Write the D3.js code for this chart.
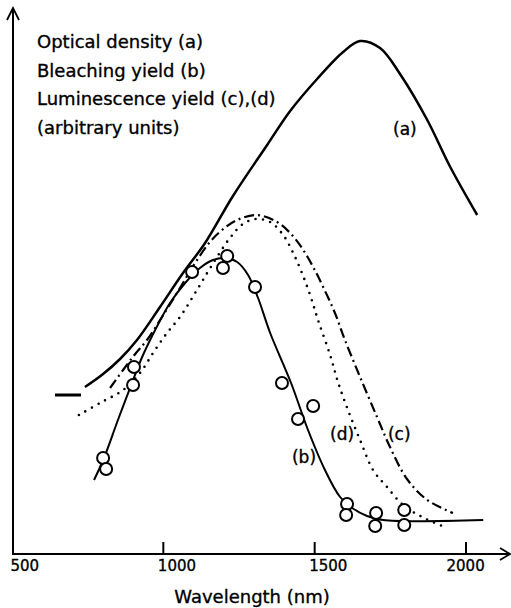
<!DOCTYPE html>
<html lang="en">
<head>
    <meta charset="UTF-8">
    <title>Optical density, bleaching and luminescence yield</title>
    <script src="https://d3js.org/d3.v7.min.js"></script>
    <style>
        body { margin: 0; background: #fff; }
        text { font-family: "DejaVu Sans", sans-serif; fill: #000; stroke: #000; stroke-width: 0.35px; }
    </style>
</head>
<body>
    <div id="chart"></div>

    <script>
        // Data (wavelength in nm, response in arbitrary units)
        var curveA = [[741, 33.4], [801, 36.0], [857, 39.0], [913, 42.8], [989, 49.4], [1065, 56.2],
            [1138, 62.2], [1230, 71.6], [1343, 81.8], [1419, 88.6], [1508, 95.0], [1594, 100.4],
            [1650, 102.6], [1716, 101.2], [1782, 96], [1872, 86.8], [1948, 77.4], [2037, 67.8]];
        var curveAStub = [[642, 31.8], [728, 31.8]];

        var curveB = [[771, 14.8], [804, 19.2], [850, 26.8], [900, 34.8], [930, 39.4], [973, 44.8],
            [1022, 50.2], [1072, 54.2], [1121, 57.2], [1164, 58.8], [1204, 59.2], [1244, 58.4],
            [1280, 55.8], [1313, 51.2], [1353, 44.2], [1422, 34.2], [1478, 24.8], [1534, 16.8],
            [1584, 11.4], [1624, 9.2], [1673, 7.6], [1726, 6.8], [2057, 6.8]];

        var pointsB = [[801, 19.2], [811, 17.0], [903, 37.4], [900, 33.8], [1095, 56.4], [1211, 59.6],
            [1197, 57.2], [1303, 53.4], [1392, 34.2], [1495, 29.6], [1445, 27.0], [1607, 10.0],
            [1604, 7.8], [1703, 8.2], [1700, 5.6], [1796, 8.8], [1796, 5.8]];

        var curveC = [[824, 33.2], [867, 36.8], [907, 40.0], [946, 42.8], [1006, 48.4], [1055, 53.2],
            [1105, 58.2], [1154, 62.4], [1194, 64.8], [1244, 66.8], [1310, 67.8], [1376, 66.4],
            [1419, 64.2], [1458, 61.2], [1495, 57.4], [1528, 53.4], [1567, 48.2], [1600, 42.8],
            [1650, 35.4], [1706, 27.4], [1749, 21.4], [1805, 15.0], [1872, 10.8], [1957, 8.2]];

        var curveD = [[721, 27.8], [791, 30.2], [867, 32.8], [923, 36.2], [966, 40.2], [1012, 44.2],
            [1055, 47.4], [1111, 52.8], [1161, 57.8], [1220, 63.2], [1263, 66.0], [1306, 67.0],
            [1353, 66.4], [1396, 63.8], [1429, 60.2], [1458, 56.2], [1485, 51.8], [1511, 46.8],
            [1551, 39.8], [1577, 34.4], [1610, 28.8], [1650, 22.8], [1693, 16.8], [1739, 13.4],
            [1792, 9.8], [1855, 7.4], [1921, 5.6]];

        var xTicks = [500, 1000, 1500, 2000];
        var titleLines = ["Optical density (a)", "Bleaching yield (b)", "Luminescence yield (c),(d)", "(arbitrary units)"];
        var curveLabels = [["(a)", 1759, 83.8], ["(b)", 1425, 18.2], ["(d)", 1551, 22.8], ["(c)", 1742, 22.8]];

        var width = 511, height = 608;

        var svg = d3.select("#chart")
            .append("svg")
            .attr("width", width)
            .attr("height", height);

        // Scales
        var x = d3.scaleLinear().domain([500, 2000]).range([12, 466]);
        var y = d3.scaleLinear().domain([0, 110]).range([554, 4]);

        // Axes lines with arrows
        svg.append("line")
            .attr("x1", x(500)).attr("y1", y(0)).attr("x2", 510).attr("y2", y(0))
            .attr("stroke", "#000").attr("stroke-width", 2);
        svg.append("path")
            .attr("d", "M500,548 L510,554 L500,560")
            .attr("fill", "none").attr("stroke", "#000").attr("stroke-width", 1.8);
        svg.append("line")
            .attr("x1", 13).attr("y1", y(0)).attr("x2", 13).attr("y2", 8)
            .attr("stroke", "#000").attr("stroke-width", 2);
        svg.append("path")
            .attr("d", "M7,20 L13,8 L19,20")
            .attr("fill", "none").attr("stroke", "#000").attr("stroke-width", 1.8);

        // x axis labels
        var xAxis = svg.append("g")
            .attr("transform", "translate(0," + y(0) + ")")
            .call(d3.axisBottom(x).tickValues(xTicks).tickFormat(d3.format("d")).tickSizeOuter(0));
        xAxis.select(".domain").remove();
        xAxis.selectAll(".tick line").remove();
        xAxis.selectAll(".tick text")
            .attr("y", 17)
            .attr("dy", 0)
            .attr("text-anchor", "start")
            .attr("dx", function (d) { return d === 2000 ? -20 : (d === 500 ? -2 : -6); })
            .style("font-size", "15px")
            .style("font-family", "'DejaVu Sans', sans-serif");

        // upward tick marks
        svg.selectAll(".xtick")
            .data(xTicks.slice(1))
            .enter()
            .append("line")
            .attr("class", "xtick")
            .attr("x1", function (d) { return x(d); })
            .attr("x2", function (d) { return x(d); })
            .attr("y1", y(0))
            .attr("y2", y(0) - 12)
            .attr("stroke", "#000")
            .attr("stroke-width", 2);

        svg.append("text")
            .attr("x", 252).attr("y", 603)
            .attr("text-anchor", "middle")
            .style("font-size", "18px")
            .text("Wavelength (nm)");

        // Title block
        svg.selectAll(".title-line")
            .data(titleLines)
            .enter()
            .append("text")
            .attr("class", "title-line")
            .attr("x", 37)
            .attr("y", function (d, i) { return 48 + i * 28.5; })
            .style("font-size", "18px")
            .text(function (d) { return d; });

        // Curves
        var line = d3.line()
            .x(function (d) { return x(d[0]); })
            .y(function (d) { return y(d[1]); })
            .curve(d3.curveCatmullRom);

        svg.append("path").datum(curveAStub)
            .attr("d", line).attr("fill", "none").attr("stroke", "#000").attr("stroke-width", 3);
        svg.append("path").datum(curveA)
            .attr("d", line).attr("fill", "none").attr("stroke", "#000").attr("stroke-width", 2.5);
        svg.append("path").datum(curveB)
            .attr("d", line).attr("fill", "none").attr("stroke", "#000").attr("stroke-width", 2);
        svg.append("path").datum(curveC)
            .attr("d", line).attr("fill", "none").attr("stroke", "#000").attr("stroke-width", 2.2)
            .attr("stroke-dasharray", "10,4,2,4");
        svg.append("path").datum(curveD)
            .attr("d", line).attr("fill", "none").attr("stroke", "#000").attr("stroke-width", 2.6)
            .attr("stroke-linecap", "round")
            .attr("stroke-dasharray", "0,7.5");

        svg.selectAll(".pt")
            .data(pointsB)
            .enter()
            .append("circle")
            .attr("class", "pt")
            .attr("cx", function (d) { return x(d[0]); })
            .attr("cy", function (d) { return y(d[1]); })
            .attr("r", 6)
            .attr("fill", "#fff")
            .attr("stroke", "#000")
            .attr("stroke-width", 2);

        // Curve labels
        svg.selectAll(".curve-label")
            .data(curveLabels)
            .enter()
            .append("text")
            .attr("class", "curve-label")
            .attr("x", function (d) { return x(d[1]); })
            .attr("y", function (d) { return y(d[2]); })
            .style("font-size", "17px")
            .text(function (d) { return d[0]; });
    </script>
</body>
</html>
